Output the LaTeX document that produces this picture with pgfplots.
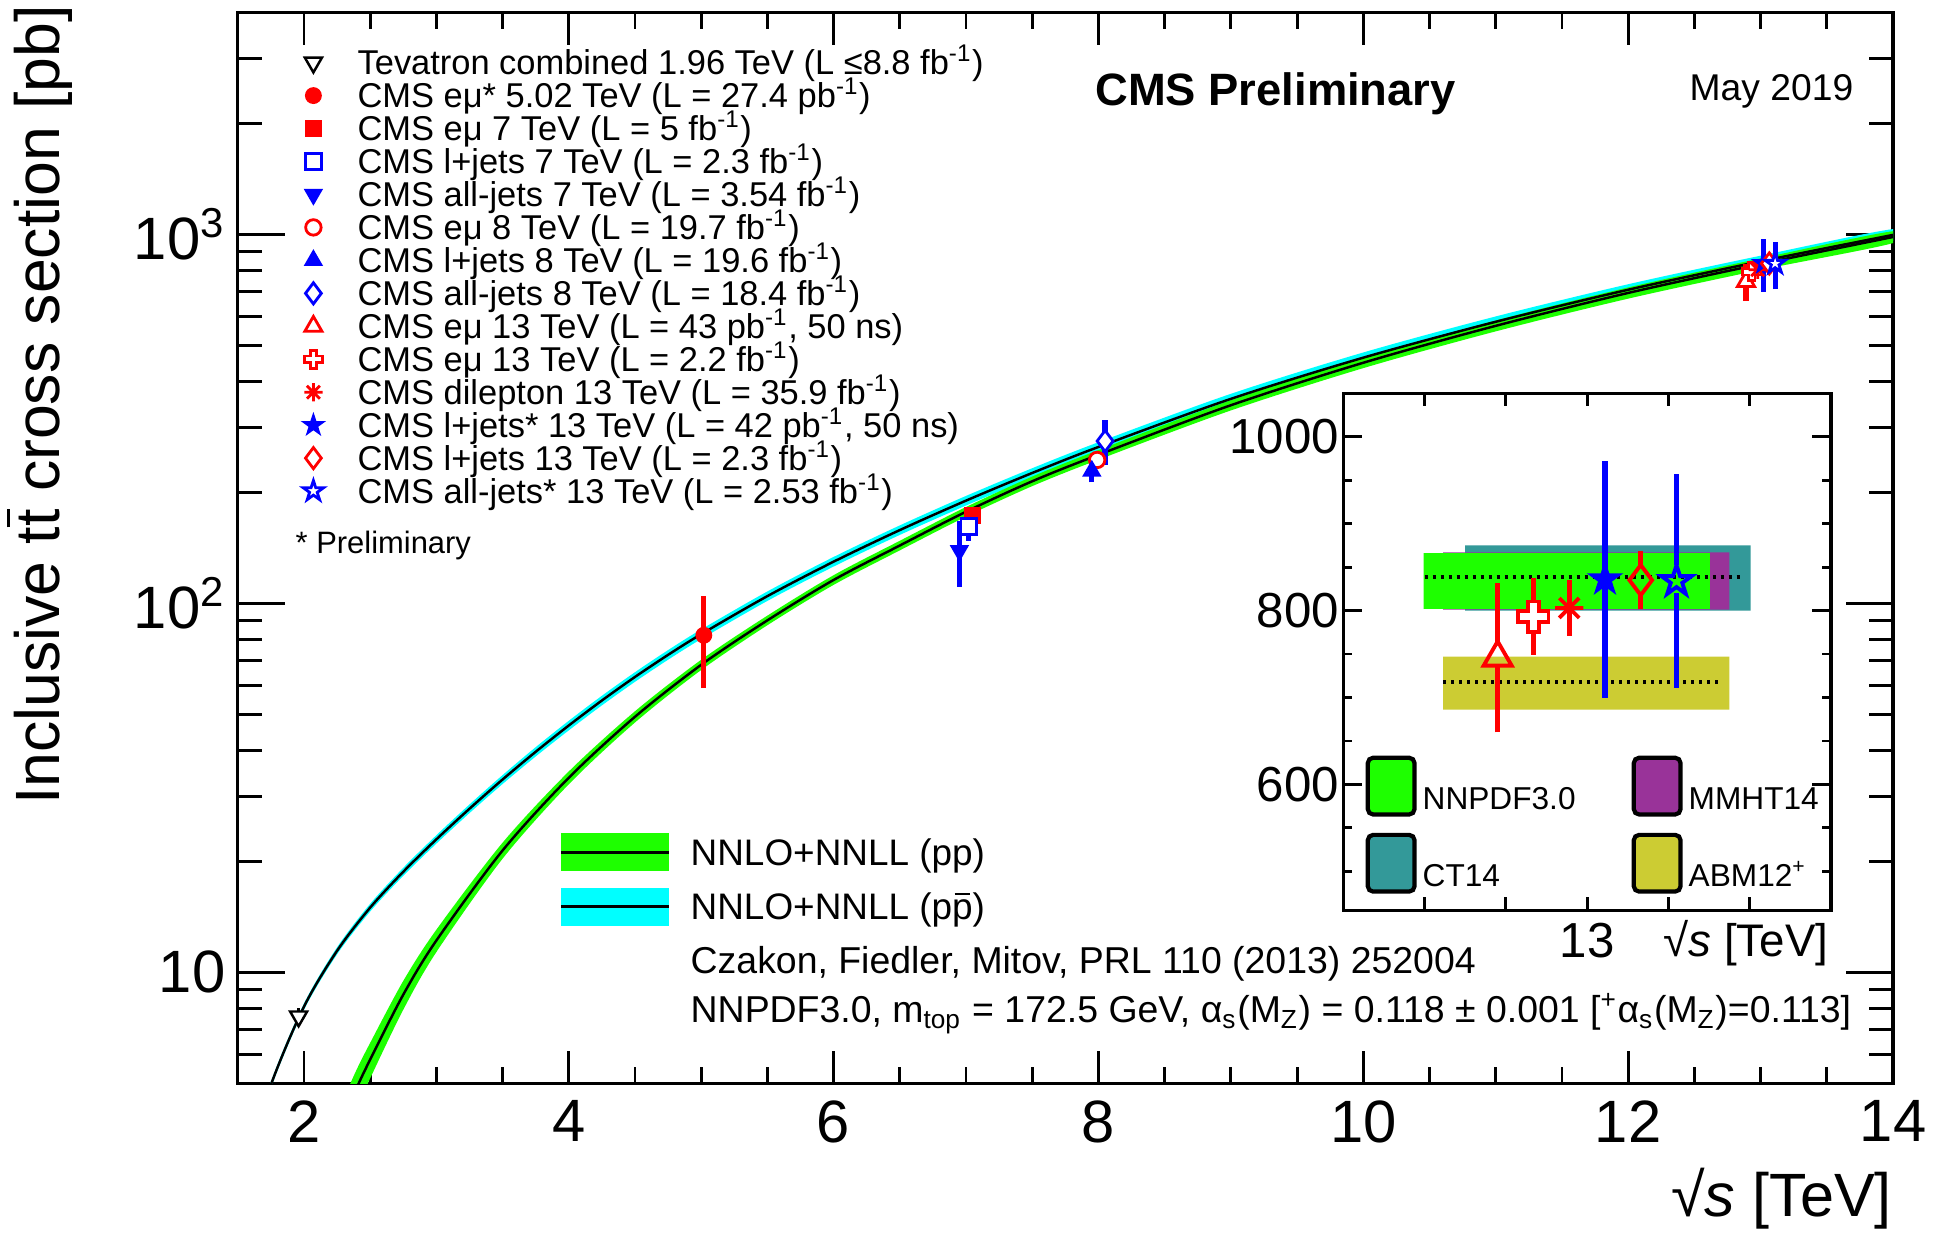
\documentclass[border=0pt]{standalone}
\usepackage{fontspec}
\setmainfont{Liberation Sans}
\setsansfont{Liberation Sans}
\usepackage{pgfplots}
\pgfplotsset{compat=1.18}
\usepackage{pgfplotstable}
\usetikzlibrary{plotmarks}

\definecolor{bandgreen}{RGB}{30,255,0}
\definecolor{bandcyan}{RGB}{0,255,255}
\definecolor{ctteal}{RGB}{51,153,153}
\definecolor{mmhtpurple}{RGB}{153,51,153}
\definecolor{abmolive}{RGB}{204,204,51}
\definecolor{rootred}{RGB}{255,0,0}
\definecolor{rootblue}{RGB}{0,0,255}

\pgfdeclareplotmark{ocross}{%
  \pgfpathmoveto{\pgfqpoint{-0.35\pgfplotmarksize}{\pgfplotmarksize}}%
  \pgfpathlineto{\pgfqpoint{0.35\pgfplotmarksize}{\pgfplotmarksize}}%
  \pgfpathlineto{\pgfqpoint{0.35\pgfplotmarksize}{0.35\pgfplotmarksize}}%
  \pgfpathlineto{\pgfqpoint{\pgfplotmarksize}{0.35\pgfplotmarksize}}%
  \pgfpathlineto{\pgfqpoint{\pgfplotmarksize}{-0.35\pgfplotmarksize}}%
  \pgfpathlineto{\pgfqpoint{0.35\pgfplotmarksize}{-0.35\pgfplotmarksize}}%
  \pgfpathlineto{\pgfqpoint{0.35\pgfplotmarksize}{-\pgfplotmarksize}}%
  \pgfpathlineto{\pgfqpoint{-0.35\pgfplotmarksize}{-\pgfplotmarksize}}%
  \pgfpathlineto{\pgfqpoint{-0.35\pgfplotmarksize}{-0.35\pgfplotmarksize}}%
  \pgfpathlineto{\pgfqpoint{-\pgfplotmarksize}{-0.35\pgfplotmarksize}}%
  \pgfpathlineto{\pgfqpoint{-\pgfplotmarksize}{0.35\pgfplotmarksize}}%
  \pgfpathlineto{\pgfqpoint{-0.35\pgfplotmarksize}{0.35\pgfplotmarksize}}%
  \pgfpathclose
  \pgfusepathqfillstroke}
\def\starpath{%
  \pgfpathmoveto{\pgfqpointpolar{90}{\pgfplotmarksize}}%
  \pgfpathlineto{\pgfqpointpolar{126}{0.382\pgfplotmarksize}}%
  \pgfpathlineto{\pgfqpointpolar{162}{\pgfplotmarksize}}%
  \pgfpathlineto{\pgfqpointpolar{198}{0.382\pgfplotmarksize}}%
  \pgfpathlineto{\pgfqpointpolar{234}{\pgfplotmarksize}}%
  \pgfpathlineto{\pgfqpointpolar{270}{0.382\pgfplotmarksize}}%
  \pgfpathlineto{\pgfqpointpolar{306}{\pgfplotmarksize}}%
  \pgfpathlineto{\pgfqpointpolar{342}{0.382\pgfplotmarksize}}%
  \pgfpathlineto{\pgfqpointpolar{18}{\pgfplotmarksize}}%
  \pgfpathlineto{\pgfqpointpolar{54}{0.382\pgfplotmarksize}}%
  \pgfpathclose}
\pgfdeclareplotmark{fstar}{\starpath\pgfusepathqfillstroke}
\pgfdeclareplotmark{ostar}{\starpath\pgfusepathqstroke}
\pgfdeclareplotmark{ast8}{%
  \pgfpathmoveto{\pgfqpoint{0pt}{\pgfplotmarksize}}\pgfpathlineto{\pgfqpoint{0pt}{-\pgfplotmarksize}}%
  \pgfpathmoveto{\pgfqpoint{\pgfplotmarksize}{0pt}}\pgfpathlineto{\pgfqpoint{-\pgfplotmarksize}{0pt}}%
  \pgfpathmoveto{\pgfqpoint{0.707\pgfplotmarksize}{0.707\pgfplotmarksize}}\pgfpathlineto{\pgfqpoint{-0.707\pgfplotmarksize}{-0.707\pgfplotmarksize}}%
  \pgfpathmoveto{\pgfqpoint{-0.707\pgfplotmarksize}{0.707\pgfplotmarksize}}\pgfpathlineto{\pgfqpoint{0.707\pgfplotmarksize}{-0.707\pgfplotmarksize}}%
  \pgfusepathqstroke}

\newcommand{\tbar}{\ooalign{t\cr\hidewidth\rule[0.78em]{0.3em}{0.06em}\hidewidth\cr}}
\newcommand{\pbar}{\ooalign{p\cr\hidewidth\rule[0.66em]{0.42em}{0.05em}\hidewidth\cr}}

% central NNLO+NNLL curves (pb)
\pgfplotstableread{
x c
2.30 4.03
2.40 4.88
2.50 5.80
2.75 8.70
3.00 12.2
3.50 21.4
4.00 33.7
4.50 49.3
5.00 68.2
5.50 90.0
6.00 115.8
6.50 143.6
7.00 177.3
7.50 214.4
8.00 252.9
9.00 344.6
10.0 449.2
11.0 565.6
12.0 694.5
13.0 831.8
14.0 984.5
}\pptable

\pgfplotstableread{
x c
1.50 2.59
1.75 4.95
2.00 8.07
2.25 11.44
2.50 14.98
2.75 18.74
3.00 22.94
3.25 27.77
3.50 33.33
3.75 39.63
4.00 46.69
4.25 54.57
4.50 63.22
4.75 72.57
5.00 82.56
5.50 104.7
6.00 129.8
6.50 158.1
7.00 190.0
7.50 225.8
8.00 265.6
9.00 358.6
10.0 463.7
11.0 580.1
12.0 708.5
13.0 845.8
14.0 997.6
}\ppbartable

\begin{document}
\begin{tikzpicture}
\path[use as bounding box] (-2.377,-1.615) rectangle (17.043,10.835);

\begin{axis}[
  at={(0cm,0cm)}, anchor=south west,
  scale only axis, width=16.553cm, height=10.711cm,
  xmin=1.5, xmax=14, ymode=log, ymin=5, ymax=4000,
  axis line style={line width=0.9pt},
  tick align=inside,
  every tick/.style={black, line width=0.8pt},
  xtick={2,4,6,8,10,12,14}, xticklabels={2,4,6,8,10,12,14},
  minor xtick={2.5,3,3.5,4.5,5,5.5,6.5,7,7.5,8.5,9,9.5,10.5,11,11.5,12.5,13,13.5},
  ytick={10,100,1000}, yticklabels={10,10\textsuperscript{2},10\textsuperscript{3}},
  minor ytick={6,7,8,9,20,30,40,50,60,70,80,90,200,300,400,500,600,700,800,900,2000,3000},
  xtick style={/pgfplots/major tick length=0.33cm,/pgfplots/minor tick length=0.165cm},
  ytick style={/pgfplots/major tick length=0.47cm,/pgfplots/minor tick length=0.24cm},
  ticklabel style={font=\fontsize{17}{20}\selectfont},
  xticklabel style={inner ysep=4.7pt},
  legend style={at={(0.0328,0.964)}, anchor=north west, draw=none, fill=none,
    inner sep=0pt, row sep=0pt, column sep=0pt,
    font=\fontsize{9.8}{10}\selectfont,
    cells={anchor=base west},
    nodes={inner sep=0pt, text height=0.2296cm, text depth=0.1cm}},
  legend image code/.code={\path (-0.2cm,0cm) (0.435cm,0cm); \draw[#1] plot coordinates {(0cm,0.12cm)};},
]
% theory bands (upper edge forward, lower edge back)
\addplot[fill=bandcyan, draw=none, smooth, forget plot] coordinates {
(1.50,2.64) (1.75,5.05) (2.00,8.23) (2.25,11.69) (2.50,15.34) (2.75,19.21) (3.00,23.54) (3.25,28.52) (3.50,34.26) (3.75,40.78) (4.00,48.09) (4.25,56.21) (4.50,65.12) (4.75,74.75) (5.00,85.04) (5.50,107.8) (6.00,133.7) (6.50,162.8) (7.00,195.7) (7.50,232.6) (8.00,273.6) (9.00,370.1) (10.0,479.0) (11.0,599.8) (12.0,733.3) (13.0,876.2) (14.0,1034.5)
(14.0,960.7) (13.0,815.4) (12.0,683.7) (11.0,560.4) (10.0,448.4) (9.00,347.1) (8.00,257.6) (7.50,219.0) (7.00,184.3) (6.50,153.4) (6.00,125.9) (5.50,101.6) (5.00,80.08) (4.75,70.39) (4.50,61.32) (4.25,52.93) (4.00,45.29) (3.75,38.48) (3.50,32.40) (3.25,27.02) (3.00,22.34) (2.75,18.27) (2.50,14.62) (2.25,11.19) (2.00,7.91) (1.75,4.85) (1.50,2.54)};
\addplot[fill=bandgreen, draw=none, smooth, forget plot] coordinates {
(2.30,4.55) (2.40,5.47) (2.50,6.44) (2.75,9.48) (3.00,13.05) (3.50,22.47) (4.00,35.05) (4.50,51.03) (5.00,70.38) (5.50,92.7) (6.00,119.3) (6.50,147.9) (7.00,182.6) (7.50,220.8) (8.00,260.5) (9.00,355.6) (10.0,464.0) (11.0,584.8) (12.0,718.8) (13.0,861.7) (14.0,1020.9)
(14.0,948.1) (13.0,801.9) (12.0,670.2) (11.0,546.4) (10.0,434.4) (9.00,333.6) (8.00,245.3) (7.50,208.0) (7.00,172.0) (6.50,139.3) (6.00,112.3) (5.50,87.3) (5.00,66.02) (4.50,47.57) (4.00,32.35) (3.50,20.33) (3.00,11.35) (2.75,7.92) (2.50,5.16) (2.40,4.29) (2.30,3.51)};
\addplot[black, line width=0.7pt, smooth, forget plot] table[x=x,y=c]{\ppbartable};
\addplot[black, line width=0.7pt, smooth, forget plot] table[x=x,y=c]{\pptable};

% error bars
\addplot[black, line width=0.8pt, forget plot] coordinates {(1.96,7.19) (1.96,8.01)};
\addplot[rootred, line width=1.5pt, forget plot] coordinates {(5.02,59) (5.02,105)};
\addplot[rootred, line width=1.5pt, forget plot] coordinates {(7.05,167.3) (7.05,179.9)};
\addplot[rootblue, line width=1.5pt, forget plot] coordinates {(7.02,147.7) (7.02,175.7)};
\addplot[rootblue, line width=1.5pt, forget plot] coordinates {(6.95,111) (6.95,167)};
\addplot[rootred, line width=1.5pt, forget plot] coordinates {(7.99,235.6) (7.99,254.2)};
\addplot[rootblue, line width=1.5pt, forget plot] coordinates {(7.95,213) (7.95,244)};
\addplot[rootblue, line width=1.5pt, forget plot] coordinates {(8.05,236.6) (8.05,314.6)};
\addplot[rootred, line width=1.5pt, forget plot] coordinates {(12.89,660) (12.89,832)};
\addplot[rootred, line width=1.5pt, forget plot] coordinates {(12.934,749) (12.934,837)};
\addplot[rootred, line width=1.5pt, forget plot] coordinates {(12.978,771) (12.978,835)};
\addplot[rootblue, line width=1.5pt, forget plot] coordinates {(13.022,700) (13.022,972)};
\addplot[rootred, line width=1.5pt, forget plot] coordinates {(13.066,802) (13.066,868)};
\addplot[rootblue, line width=1.5pt, forget plot] coordinates {(13.11,711) (13.11,957)};

% markers
\addplot[black, only marks, mark=triangle*, mark size=2.8pt, mark options={rotate=180, fill=white, line width=0.7pt}] coordinates {(1.96,7.60)};
\addlegendentry{Tevatron combined 1.96 TeV (L ≤8.8 fb\textsuperscript{-1})}
\addplot[rootred, only marks, mark=*, mark size=2.2pt] coordinates {(5.02,82)};
\addlegendentry{CMS eμ* 5.02 TeV (L = 27.4 pb\textsuperscript{-1})}
\addplot[rootred, only marks, mark=square*, mark size=2.2pt] coordinates {(7.05,173.6)};
\addlegendentry{CMS eμ 7 TeV (L = 5 fb\textsuperscript{-1})}
\addplot[rootblue, only marks, mark=square*, mark size=2.2pt, mark options={fill=white, line width=0.8pt}] coordinates {(7.02,161.7)};
\addlegendentry{CMS l+jets 7 TeV (L = 2.3 fb\textsuperscript{-1})}
\addplot[rootblue, only marks, mark=triangle*, mark size=2.8pt, mark options={rotate=180}] coordinates {(6.95,139)};
\addlegendentry{CMS all-jets 7 TeV (L = 3.54 fb\textsuperscript{-1})}
\addplot[rootred, only marks, mark=*, mark size=2.2pt, mark options={fill=white, line width=0.8pt}] coordinates {(7.99,244.9)};
\addlegendentry{CMS eμ 8 TeV (L = 19.7 fb\textsuperscript{-1})}
\addplot[rootblue, only marks, mark=triangle*, mark size=2.8pt] coordinates {(7.95,228.5)};
\addlegendentry{CMS l+jets 8 TeV (L = 19.6 fb\textsuperscript{-1})}
\addplot[rootblue, only marks, mark=diamond*, mark size=3pt, mark options={fill=white, line width=0.8pt}] coordinates {(8.05,275.6)};
\addlegendentry{CMS all-jets 8 TeV (L = 18.4 fb\textsuperscript{-1})}
\addplot[rootred, only marks, mark=triangle*, mark size=2.8pt, mark options={fill=white, line width=0.8pt}] coordinates {(12.89,746)};
\addlegendentry{CMS eμ 13 TeV (L = 43 pb\textsuperscript{-1}, 50 ns)}
\addplot[rootred, only marks, mark=ocross, mark size=2.6pt, mark options={fill=white, line width=0.8pt}] coordinates {(12.934,793)};
\addlegendentry{CMS eμ 13 TeV (L = 2.2 fb\textsuperscript{-1})}
\addplot[rootred, only marks, mark=ast8, mark size=2.6pt, mark options={line width=0.8pt}] coordinates {(12.978,803)};
\addlegendentry{CMS dilepton 13 TeV (L = 35.9 fb\textsuperscript{-1})}
\addplot[rootblue, only marks, mark=fstar, mark size=3pt, mark options={fill=rootblue, line width=0.5pt}] coordinates {(13.022,836)};
\addlegendentry{CMS l+jets* 13 TeV (L = 42 pb\textsuperscript{-1}, 50 ns)}
\addplot[rootred, only marks, mark=diamond*, mark size=3pt, mark options={fill=white, line width=0.8pt}] coordinates {(13.066,835)};
\addlegendentry{CMS l+jets 13 TeV (L = 2.3 fb\textsuperscript{-1})}
\addplot[rootblue, only marks, mark=fstar, mark size=3pt, mark options={fill=white, line width=0.8pt}] coordinates {(13.11,834)};
\addlegendentry{CMS all-jets* 13 TeV (L = 2.53 fb\textsuperscript{-1})}
\end{axis}

% inset
\begin{axis}[
  at={(11.055cm,1.73cm)}, anchor=south west,
  scale only axis, width=4.878cm, height=5.172cm,
  xmin=12.7, xmax=13.3, ymin=455, ymax=1050,
  axis background/.style={fill=white},
  axis line style={line width=0.9pt},
  tick align=inside,
  every tick/.style={black, line width=0.8pt},
  xtick={12.8,12.9,13,13.1,13.2}, xticklabels={,,13,,},
  ytick={600,800,1000}, yticklabels={600,800,1000},
  minor ytick={500,550,650,700,750,850,900,950},
  xtick style={/pgfplots/major tick length=0.13cm},
  ytick style={/pgfplots/major tick length=0.19cm,/pgfplots/minor tick length=0.09cm},
  ticklabel style={font=\fontsize{14}{16}\selectfont},
  yticklabel style={inner xsep=1pt},
  xticklabel style={inner ysep=3.4pt},
  legend columns=2,
  legend style={at={(0.0447,0.3007)}, anchor=north west, draw=none, fill=none,
    inner sep=0pt, row sep=0.162cm, column sep=0pt,
    font=\fontsize{9}{10}\selectfont,
    cells={anchor=base west},
    nodes={inner sep=0pt, text width=2.09cm, align=left}},
]
\addplot[fill=ctteal, draw=none, forget plot] coordinates {(12.850,800) (13.201,800) (13.201,875) (12.850,875) (12.850,800)};
\addplot[fill=mmhtpurple, draw=none, forget plot] coordinates {(12.823,801) (13.175,801) (13.175,867) (12.823,867) (12.823,801)};
\addplot[fill=bandgreen, draw=none, forget plot] coordinates {(12.799,802) (13.151,802) (13.151,866) (12.799,866) (12.799,802)};
\addplot[fill=abmolive, draw=none, forget plot] coordinates {(12.823,686) (13.175,686) (13.175,747) (12.823,747) (12.823,686)};
\addplot[black, line width=1.1pt, dash pattern=on 0.03cm off 0.05cm, forget plot] coordinates {(12.80,839) (13.19,839)};
\addplot[black, line width=1.1pt, dash pattern=on 0.03cm off 0.05cm, forget plot] coordinates {(12.823,718) (13.167,718)};

% error bars (split around hollow markers)
\addplot[rootred, line width=1.5pt, forget plot] coordinates {(12.89,660) (12.89,737)};
\addplot[rootred, line width=1.5pt, forget plot] coordinates {(12.89,764) (12.89,832)};
\addplot[rootred, line width=1.5pt, forget plot] coordinates {(12.934,749) (12.934,837)};
\addplot[rootred, line width=1.5pt, forget plot] coordinates {(12.978,771) (12.978,835)};
\addplot[rootblue, line width=1.5pt, forget plot] coordinates {(13.022,700) (13.022,972)};
\addplot[rootred, line width=1.5pt, forget plot] coordinates {(13.066,802) (13.066,818)};
\addplot[rootred, line width=1.5pt, forget plot] coordinates {(13.066,852) (13.066,868)};
\addplot[rootblue, line width=1.5pt, forget plot] coordinates {(13.11,711) (13.11,820)};
\addplot[rootblue, line width=1.5pt, forget plot] coordinates {(13.11,852) (13.11,957)};

\addplot[rootred, only marks, mark=triangle, mark size=4.6pt, mark options={line width=1.1pt}, forget plot] coordinates {(12.89,746)};
\addplot[rootred, only marks, mark=ocross, mark size=4.3pt, mark options={fill=white, line width=1.1pt}, forget plot] coordinates {(12.934,793)};
\addplot[rootred, only marks, mark=ast8, mark size=4pt, mark options={line width=1.1pt}, forget plot] coordinates {(12.978,803)};
\addplot[rootblue, only marks, mark=fstar, mark size=4.5pt, mark options={fill=rootblue, line width=0.6pt}, forget plot] coordinates {(13.022,836)};
\addplot[rootred, only marks, mark=diamond, mark size=4.3pt, mark options={line width=1.1pt}, forget plot] coordinates {(13.066,835)};
\addplot[rootblue, only marks, mark=ostar, mark size=4.5pt, mark options={line width=1.1pt}, forget plot] coordinates {(13.11,834)};

\addlegendimage{legend image code/.code={\draw[fill=bandgreen,draw=black,line width=1.2pt,rounded corners=1.5pt] (0cm,-0.05cm) rectangle (0.467cm,0.517cm); \path (0.542cm,0cm);}}
\addlegendentry{NNPDF3.0}
\addlegendimage{legend image code/.code={\draw[fill=mmhtpurple,draw=black,line width=1.2pt,rounded corners=1.5pt] (0cm,-0.05cm) rectangle (0.467cm,0.517cm); \path (0.542cm,0cm);}}
\addlegendentry{MMHT14}
\addlegendimage{legend image code/.code={\draw[fill=ctteal,draw=black,line width=1.2pt,rounded corners=1.5pt] (0cm,-0.05cm) rectangle (0.467cm,0.517cm); \path (0.542cm,0cm);}}
\addlegendentry{CT14}
\addlegendimage{legend image code/.code={\draw[fill=abmolive,draw=black,line width=1.2pt,rounded corners=1.5pt] (0cm,-0.05cm) rectangle (0.467cm,0.517cm); \path (0.542cm,0cm);}}
\addlegendentry{ABM12\textsuperscript{+}}
\end{axis}

% texts
\node[anchor=base, font=\bfseries\fontsize{12.9}{15}\selectfont, inner sep=0pt] at (10.379,9.782) {CMS Preliminary};
\node[anchor=base east, font=\fontsize{10.6}{12}\selectfont, inner sep=0pt] at (16.163,9.834) {May 2019};
\node[anchor=base west, font=\fontsize{8.8}{10}\selectfont, inner sep=0pt] at (0.573,5.298) {* Preliminary};

\fill[bandgreen] (3.233,2.128) rectangle (4.311,2.500);
\draw[black, line width=0.8pt] (3.233,2.308) -- (4.311,2.308);
\fill[bandcyan] (3.233,1.575) rectangle (4.311,1.952);
\draw[black, line width=0.8pt] (3.233,1.768) -- (4.311,1.768);
\node[anchor=base west, font=\fontsize{10.5}{12}\selectfont, inner sep=0pt] at (4.523,2.182) {NNLO+NNLL (pp)};
\node[anchor=base west, font=\fontsize{10.5}{12}\selectfont, inner sep=0pt] at (4.523,1.642) {NNLO+NNLL (p\pbar)};
\node[anchor=base west, font=\fontsize{10.65}{12}\selectfont, inner sep=0pt] at (4.523,1.102) {Czakon, Fiedler, Mitov, PRL 110 (2013) 252004};
\node[anchor=base west, font=\fontsize{10.65}{12}\selectfont, inner sep=0pt] at (4.523,0.608) {NNPDF3.0, m\textsubscript{top} = 172.5 GeV, α\textsubscript{s}(M\textsubscript{Z}) = 0.118 ± 0.001 [\textsuperscript{+}α\textsubscript{s}(M\textsubscript{Z})=0.113]};

\node[rotate=90, font=\fontsize{17.8}{20}\selectfont, inner sep=0pt] at (-1.947,6.785) {Inclusive t\tbar{} cross section [pb]};
\node[anchor=mid east, font=\fontsize{17.4}{20}\selectfont, inner sep=0pt] at (16.548,-1.24) {√\textit{s} [TeV]};
\node[anchor=mid east, font=\fontsize{13}{15}\selectfont, inner sep=0pt] at (15.913,1.365) {√\textit{s} [TeV]};
\end{tikzpicture}
\end{document}
